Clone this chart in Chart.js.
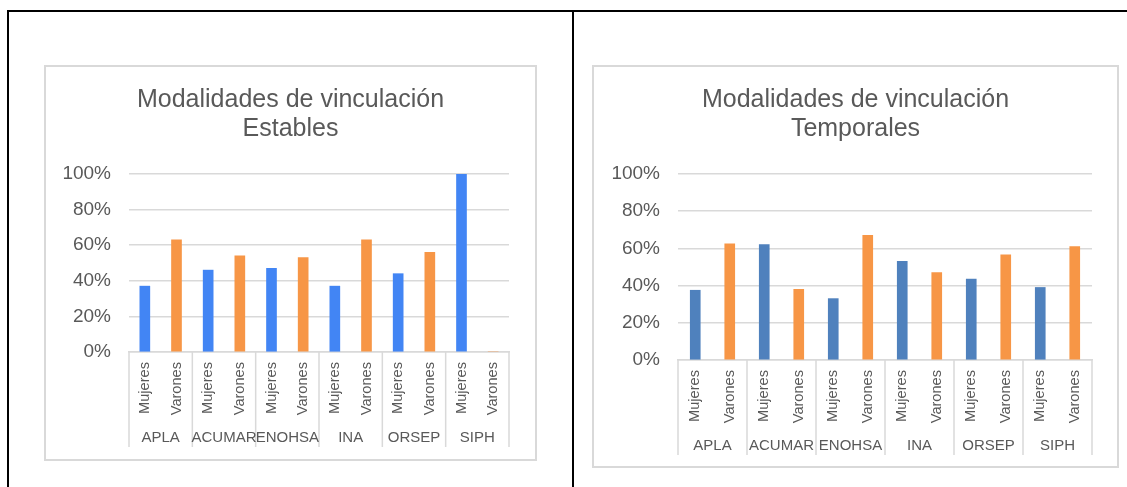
<!DOCTYPE html>
<html>
<head>
<meta charset="utf-8">
<script src="https://cdn.jsdelivr.net/npm/chart.js@4"></script>
<style>
  body { margin: 0; background: #fff; width: 1127px; height: 487px; overflow: hidden; position: relative; font-family: 'Liberation Sans', Arial, sans-serif; }
  .rule { position: absolute; background: #000; }
  .frame { position: absolute; border: 2px solid #d9d9d9; box-sizing: border-box; }
  canvas { position: absolute; }
</style>
</head>
<body>
<div class="rule" style="left:7px;top:10px;width:1120px;height:2px"></div>
<div class="rule" style="left:7px;top:10px;width:2px;height:477px"></div>
<div class="rule" style="left:572px;top:10px;width:2px;height:477px"></div>

<div class="frame" style="left:44px;top:65px;width:493px;height:396px"></div>
<canvas id="estables" width="493" height="396" style="left:44px;top:65px"></canvas>

<div class="frame" style="left:592px;top:65px;width:527px;height:403px"></div>
<canvas id="temporales" width="527" height="403" style="left:592px;top:65px"></canvas>

<script>
// organismos y sexo
const groups = ['APLA', 'ACUMAR', 'ENOHSA', 'INA', 'ORSEP', 'SIPH'];
const sexes = ['Mujeres', 'Varones'];

// porcentajes
const establesMujeres = [37, 46, 47, 37, 44, 100];
const establesVarones = [63, 54, 53, 63, 56, 0];
const temporalesMujeres = [37.5, 62, 33, 53, 43.5, 39];
const temporalesVarones = [62.5, 38, 67, 47, 56.5, 61];

const yTicks = [0, 20, 40, 60, 80, 100];

const textColor = '#595959';
const gridColor = '#d9d9d9';
const font = "'Liberation Sans', Arial, sans-serif";

// titulo centrado en todo el recuadro (no solo en el area del grafico)
const frameTitle = {
    id: 'frameTitle',
    afterDraw(chart) {
        const lines = chart.options.plugins.frameTitle.lines;
        const ctx = chart.ctx;
        ctx.save();
        ctx.fillStyle = textColor;
        ctx.font = '25px ' + font;
        ctx.textAlign = 'center';
        ctx.textBaseline = 'middle';
        lines.forEach((t, i) => ctx.fillText(t, chart.width / 2, 35 + i * 29.5));
        ctx.restore();
    }
};

// dibuja separadores y nombres de los organismos bajo el eje
const groupAxis = {
    id: 'groupAxis',
    afterDraw(chart) {
        const opts = chart.options.plugins.groupAxis;
        const x = chart.scales.x;
        const bottom = chart.chartArea.bottom;
        const ctx = chart.ctx;
        const step = (x.right - x.left) / x.ticks.length;
        const per = x.ticks.length / opts.groups.length;
        ctx.save();
        ctx.strokeStyle = gridColor;
        ctx.lineWidth = 1.5;
        for (let i = 0; i <= opts.groups.length; i++) {
            const px = x.left + i * per * step;
            ctx.beginPath();
            ctx.moveTo(px, bottom);
            ctx.lineTo(px, bottom + 95);
            ctx.stroke();
        }
        ctx.fillStyle = textColor;
        ctx.font = '15px ' + font;
        ctx.textAlign = 'center';
        ctx.textBaseline = 'middle';
        opts.groups.forEach((g, i) => {
            ctx.fillText(g, x.left + (i + 0.5) * per * step, bottom + 86);
        });
        ctx.restore();
    }
};

function makeChart(id, subtitle, mujeres, varones, blue, yWidth, xHeight, rightPad) {
    const labels = [];
    const values = [];
    const colors = [];
    groups.forEach((g, i) => {
        labels.push(sexes[0], sexes[1]);
        values.push(mujeres[i], varones[i]);
        colors.push(blue, '#f79646');
    });

    return new Chart(document.getElementById(id), {
        type: 'bar',
        plugins: [groupAxis, frameTitle],
        data: {
            labels: labels,
            datasets: [{
                data: values,
                backgroundColor: colors,
                barThickness: 10
            }]
        },
        options: {
            responsive: false,
            animation: false,
            devicePixelRatio: 1,
            layout: { padding: { left: 0, right: rightPad, top: 109, bottom: 0 } },
            plugins: {
                legend: { display: false },
                tooltip: { enabled: false },
                title: { display: false },
                frameTitle: { lines: ['Modalidades de vinculación', subtitle] },
                groupAxis: { groups: groups }
            },
            scales: {
                x: {
                    grid: { display: false, drawTicks: false },
                    border: { display: true, color: gridColor, width: 1.5 },
                    ticks: {
                        autoSkip: false,
                        minRotation: 90,
                        maxRotation: 90,
                        padding: 10,
                        color: textColor,
                        font: { family: font, size: 14.6 }
                    },
                    afterFit: s => { s.height = xHeight; }
                },
                y: {
                    min: 0,
                    max: 100,
                    afterBuildTicks: s => { s.ticks = yTicks.map(v => ({ value: v })); },
                    grid: { color: gridColor, lineWidth: 1.5, drawTicks: false },
                    border: { display: false },
                    ticks: {
                        padding: 18,
                        color: textColor,
                        font: { family: font, size: 19 },
                        callback: v => v + '%'
                    },
                    afterFit: s => { s.width = yWidth; }
                }
            }
        }
    });
}

makeChart('estables', 'Estables', establesMujeres, establesVarones, '#4285f4', 85, 109, 28);
makeChart('temporales', 'Temporales', temporalesMujeres, temporalesVarones, '#4f81bd', 86, 108, 27);
</script>
</body>
</html>
